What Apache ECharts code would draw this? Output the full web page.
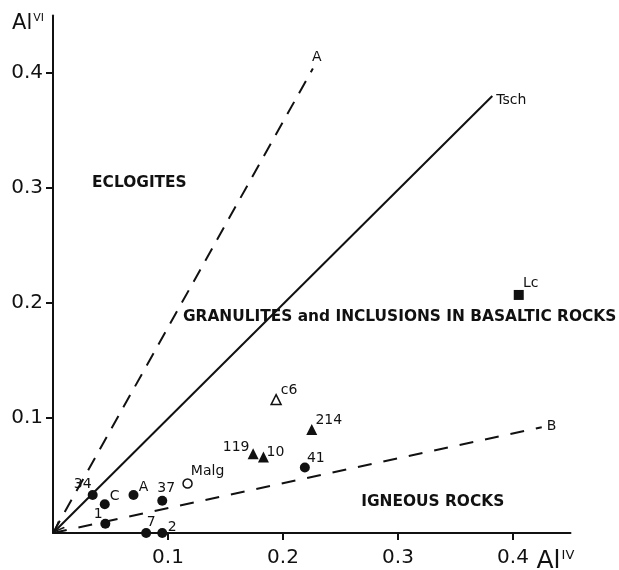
<!DOCTYPE html>
<html>
<head>
<meta charset="utf-8">
<script src="https://cdn.jsdelivr.net/npm/echarts@6/dist/echarts.min.js"></script>
<style>
html,body{margin:0;padding:0;background:#fff;}
#chart{width:619px;height:570px;}
</style>
</head>
<body>
<div id="chart"></div>
<script>
// ---- data ----
const tickValues = [0.1, 0.2, 0.3, 0.4];

// filled circles
const circleNames = ['34', 'C', 'A', '37', '1', '7', '2', '41'];
const circleAlIV  = [0.0345, 0.045, 0.070, 0.095, 0.0455, 0.081, 0.095, 0.219];
const circleAlVI  = [0.033, 0.025, 0.033, 0.028, 0.008, 0.000, 0.000, 0.057];

// open circle
const openCircleNames = ['Malg'];
const openCircleAlIV  = [0.117];
const openCircleAlVI  = [0.043];

// filled triangles
const triNames = ['119', '10', '214'];
const triAlIV  = [0.174, 0.183, 0.225];
const triAlVI  = [0.069, 0.066, 0.090];

// open triangle
const openTriNames = ['c6'];
const openTriAlIV  = [0.194];
const openTriAlVI  = [0.116];

// square
const squareNames = ['Lc'];
const squareAlIV  = [0.405];
const squareAlVI  = [0.207];

// boundary lines from origin: end points
const lineNames = ['A', 'Tsch', 'B'];
const lineEndAlIV = [0.226, 0.382, 0.425];
const lineEndAlVI = [0.404, 0.380, 0.092];

// field labels
const fieldTexts = ['ECLOGITES', 'GRANULITES and INCLUSIONS IN BASALTIC ROCKS', 'IGNEOUS ROCKS'];
const fieldAlIV  = [0.034, 0.113, 0.268];
const fieldAlVI  = [0.304, 0.188, 0.027];

// ---- styles ----
const FONT = 'DejaVu Sans';
const INK = '#111111';
const labelOffsets = {
  '34': [-10, -11], 'C': [10, -8], 'A': [10, -8], '37': [4, -12], '1': [-7, -9],
  '7': [5, -11], '2': [10, -6], '41': [11, -9], 'Malg': [20, -12],
  '119': [-17, -6], '10': [12, -5], '214': [17, -9], 'c6': [13, -9], 'Lc': [12, -12]
};
const lineStyles = {
  'A':    {type: [14, 10], width: 2, endOffset: [-5, -11], arrow: false},
  'Tsch': {type: 'solid',  width: 2, endOffset: [0, 4], arrow: true},
  'B':    {type: [14, 12], width: 2, endOffset: [1, -1], arrow: false}
};
const CHEVRON = 'path://M0,5 L12,0 L12,1.8 L3.6,5 L12,8.2 L12,10 Z';

function pts(names, xs, ys) {
  return names.map((n, i) => ({
    name: n,
    value: [xs[i], ys[i]],
    label: {offset: labelOffsets[n]}
  }));
}

const ptLabel = {
  show: true, position: 'inside', formatter: p => p.name,
  fontFamily: FONT, fontSize: 14, color: INK
};

function scatter(name, data, symbol, size, filled) {
  return {
    name: name, type: 'scatter', data: data, symbol: symbol, symbolSize: size,
    itemStyle: filled ? {color: INK, opacity: 1}
                      : {color: '#fff', borderColor: INK, borderWidth: 1.5, opacity: 1},
    label: ptLabel, z: 5
  };
}

const series = [];
lineNames.forEach((n, i) => {
  const st = lineStyles[n];
  const start = st.arrow
    ? {value: [0, 0], symbol: CHEVRON, symbolSize: [12, 10], symbolRotate: 45,
       symbolOffset: [4.2, -4.2], symbolKeepAspect: false}
    : {value: [0, 0], symbol: 'none'};
  series.push({
    name: n, type: 'line', showSymbol: true, symbol: 'none',
    data: [start, {value: [lineEndAlIV[i], lineEndAlVI[i]], symbol: 'none'}],
    itemStyle: {color: INK, opacity: 1},
    lineStyle: {color: INK, width: st.width, type: st.type, opacity: 1},
    endLabel: {show: true, formatter: n, distance: 4, offset: st.endOffset,
               fontFamily: FONT, fontSize: 14, color: INK},
    label: {show: false},
    silent: true, z: 2
  });
});
series.push(scatter('circles', pts(circleNames, circleAlIV, circleAlVI), 'circle', 10, true));
series.push(scatter('openCircles', pts(openCircleNames, openCircleAlIV, openCircleAlVI), 'circle', 9, false));
series.push(scatter('triangles', pts(triNames, triAlIV, triAlVI), 'triangle', 11, true));
series.push(scatter('openTriangles', pts(openTriNames, openTriAlIV, openTriAlVI), 'triangle', 10, false));
series.push(scatter('squares', pts(squareNames, squareAlIV, squareAlVI), 'rect', 10, true));
series.push({
  name: 'fields', type: 'scatter', symbolSize: 0, silent: true,
  itemStyle: {opacity: 1},
  data: fieldTexts.map((t, i) => ({name: t, value: [fieldAlIV[i], fieldAlVI[i]]})),
  label: {show: true, position: 'inside', align: 'left', formatter: p => p.name,
          fontFamily: FONT, fontSize: 15.4, fontWeight: 'bold', color: INK}
});

function axisBase(labelMargin) {
  return {
    type: 'value', min: 0, max: 0.45, interval: 0.1,
    splitLine: {show: false},
    axisLine: {show: true, lineStyle: {color: INK, width: 2}},
    axisTick: {show: true, length: 7, lineStyle: {color: INK, width: 2}, customValues: tickValues},
    axisLabel: {show: true, customValues: tickValues, formatter: v => v.toFixed(1),
                fontFamily: FONT, fontSize: 20, color: INK, margin: labelMargin}
  };
}

const chart = echarts.init(document.getElementById('chart'), null, {renderer: 'canvas'});
chart.setOption({
  animation: false,
  backgroundColor: '#fff',
  grid: {left: 53, top: 15.5, width: 517.5, height: 517.5, containLabel: false,
         outerBoundsMode: 'none'},
  xAxis: Object.assign(axisBase(15), {
    name: '{a|Al}{s|IV}', nameLocation: 'end', nameGap: -34,
    nameTextStyle: {verticalAlign: 'top', padding: [16, 0, 0, 0],
      rich: {a: {fontFamily: FONT, fontSize: 25, color: INK},
             s: {fontFamily: FONT, fontSize: 13, color: INK, verticalAlign: 'top', padding: [0, 0, 11, 1]}}}
  }),
  yAxis: Object.assign(axisBase(10), {
    name: '{a|Al}{s|VI}', nameLocation: 'end', nameGap: -8,
    nameTextStyle: {align: 'right', verticalAlign: 'middle', padding: [0, 9, 0, 0],
      rich: {a: {fontFamily: FONT, fontSize: 21, color: INK},
             s: {fontFamily: FONT, fontSize: 11, color: INK, verticalAlign: 'top', padding: [0, 0, 10, 1]}}}
  }),
  series: series
});
</script>
</body>
</html>
